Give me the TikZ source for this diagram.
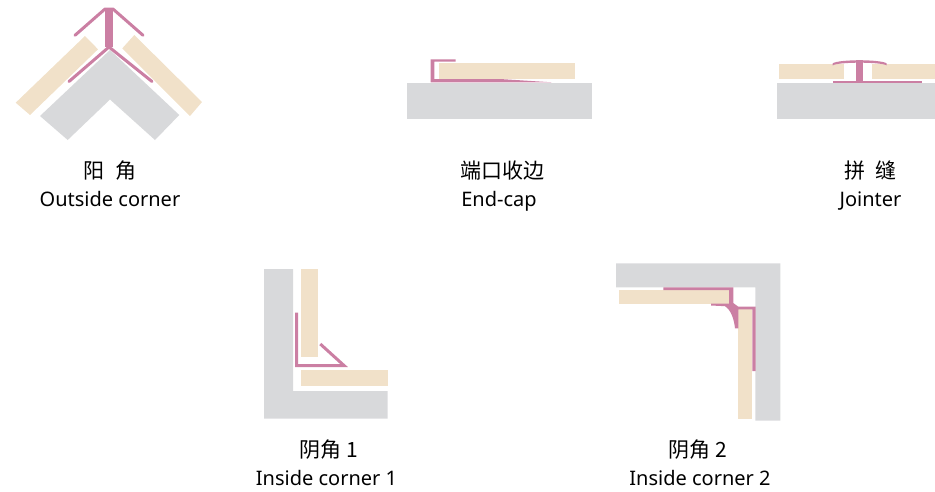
\documentclass[tikz,border=0pt]{standalone}
\usepackage{fontspec}
\setmainfont{Noto Sans}
\newfontfamily\cjk{Noto Sans CJK SC}
\usetikzlibrary{positioning}
\definecolor{wallgray}{HTML}{D8D9DB}
\definecolor{woodtan}{HTML}{F1E1C9}
\definecolor{trimpink}{HTML}{CB7FA3}
\tikzset{
    wall/.style={fill=wallgray},
    wood/.style={fill=woodtan},
    trim/.style={fill=trimpink},
    trimline/.style={draw=trimpink, line width=3pt, line cap=round, line join=round},
    cnlabel/.style={anchor=base, inner sep=0pt, font=\fontsize{21}{24}\selectfont\cjk},
    enlabel/.style={anchor=base, inner sep=0pt, font=\fontsize{20}{24}\selectfont},
}

\begin{document}
\begin{tikzpicture}[x=1pt, y=-1pt]
            \useasboundingbox (0, 0) rectangle (935, 491);
            % outside corner
            \path[wall] (110, 50) -- (179.3, 115) -- (155, 140) -- (110, 99.5) -- (67.7, 140) -- (40, 116) -- cycle;
            \path[wood] (85, 36) -- (98, 49.3) -- (30, 115) -- (15.7, 102.7) -- cycle;
            \path[wood] (134.3, 35) -- (202, 102) -- (190, 116) -- (122.3, 48.3) -- cycle;
            \path[trim] (104.7, 9) -- (113, 9) -- (113, 46.7) -- (104.7, 46.7) -- cycle;
            \draw[trimline] (75, 35.3) -- (105, 9) -- (113, 9) -- (143, 35.3);
            \draw[trimline] (69, 81.5) -- (109, 47) -- (152, 81.5);
            \node[cnlabel] (outsidecn) at (110, 178.5) {阳\hspace{0.55em}角};
            \node[enlabel] (outsideen) at (110, 206) {Outside corner};
            % end cap
            \path[wall] (407.3, 82.7) rectangle (592.3, 118.7);
            \path[wood] (439, 63) rectangle (575.3, 78.7);
            \path[trim] (430.7, 59.3) -- (455.7, 59.3) -- (455.7, 61.7) -- (434.3, 61.7) -- (434.3, 79)
                -- (500, 79) -- (551.7, 82.3) -- (430.7, 82.3) -- cycle;
            \node[cnlabel] (endcapcn) at (502.5, 178.5) {端口收边};
            \node[enlabel] (endcapen) at (499, 206) {End-cap};
            % jointer
            \path[wall] (777.3, 82.7) rectangle (935, 118.7);
            \path[wood] (779.3, 64) rectangle (844, 78.7);
            \path[wood] (872.3, 64) rectangle (935, 78.7);
            \path[trim] (832.7, 80.7) rectangle (922, 83.3);
            \path[trim] (855.7, 60) rectangle (863.3, 82);
            \path[trim] (832.7, 63.4) .. controls (838, 59.2) and (881, 59.2) .. (886.7, 63.4)
                -- (886.7, 65.4) .. controls (881, 61.8) and (838, 61.8) .. (832.7, 65.4) -- cycle;
            \node[cnlabel] (jointercn) at (870.5, 178.5) {拼\hspace{0.45em}缝};
            \node[enlabel] (jointeren) at (870.5, 206) {Jointer};
            % inside corner 1
            \path[wall] (264, 269) -- (293, 269) -- (293, 391) -- (387.7, 391) -- (387.7, 418.7) -- (264, 418.7) -- cycle;
            \path[wood] (301, 269) rectangle (318, 356.7);
            \path[wood] (301, 370) rectangle (388.3, 386);
            \draw[trimline, line cap=butt, line join=miter] (296.7, 312.7) -- (296.7, 365.5) -- (344, 365.5) -- (320.3, 344);
            \node[cnlabel] (insideacn) at (329, 457.5) {阴角 1};
            \node[enlabel] (insideaen) at (326.5, 485) {Inside corner 1};
            % inside corner 2
            \path[wall] (616, 263.3) -- (780.3, 263.3) -- (780.3, 420.7) -- (755.3, 420.7) -- (755.3, 287.3) -- (616, 287.3) -- cycle;
            \path[wood] (619.3, 290) rectangle (729, 303.7);
            \path[wood] (738.3, 309.3) rectangle (752.3, 418.7);
            \path[trim] (663.3, 287.3) -- (733.3, 287.3) -- (733.3, 303) -- (738.3, 306.7) -- (755.7, 306.7) -- (755.7, 371)
                -- (752.3, 371) -- (752.3, 309.3) -- (738.3, 309.3) -- (738.3, 328.3) -- (735, 328.3)
                .. controls (734, 319) and (731, 310) .. (725, 306.2) -- (711, 305.5) -- (711, 303.7) -- (729, 303.7) -- (729, 290) -- (663.3, 290) -- cycle;
            \node[cnlabel] (insidebcn) at (697.5, 457.5) {阴角 2};
            \node[enlabel] (insideben) at (700, 485) {Inside corner 2};
        \end{tikzpicture}
\end{document}
